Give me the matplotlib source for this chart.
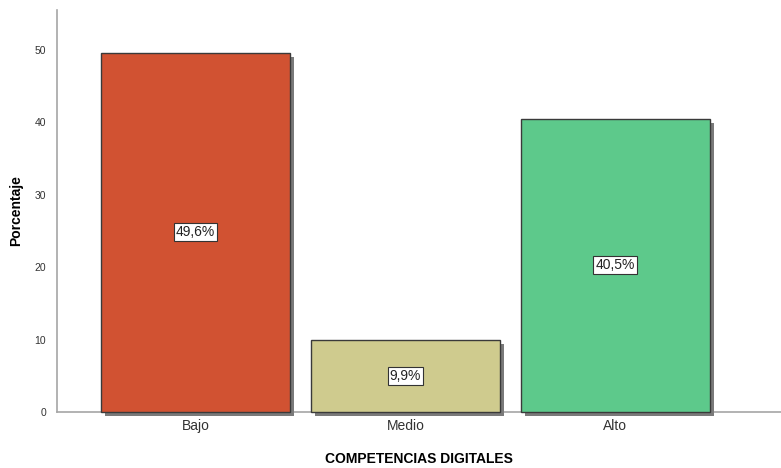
import matplotlib
matplotlib.use('Agg')
import matplotlib.pyplot as plt
import matplotlib.patheffects as pe

plt.rcParams['font.family'] = ['Liberation Sans', 'DejaVu Sans']

categories = ["Bajo", "Medio", "Alto"]
percentages = [49.6, 9.9, 40.5]
bar_colors = ["#D15232", "#CFCB8E", "#5DC98B"]

fig = plt.figure(figsize=(7.81, 4.68), dpi=100)
ax = fig.add_axes([0.073, 0.1197, 0.927, 0.859])

xs = range(len(categories))
bars = ax.bar(xs, percentages, width=0.9, color=bar_colors,
              edgecolor="#3a3a3a", linewidth=1.0, zorder=3)
# grey drop shadow under each bar
for b in bars:
    b.set_clip_on(False)
    b.set_path_effects([
        pe.SimplePatchShadow(offset=(3, -3), shadow_rgbFace="#7a7a7a", alpha=1.0),
        pe.Normal(),
    ])

for x, v in zip(xs, percentages):
    label = ("%.1f%%" % v).replace(".", ",")
    ax.text(x, v / 2, label, ha="center", va="center", fontsize=10,
            color="#222222", zorder=5,
            bbox=dict(boxstyle="square,pad=0.15", facecolor="white",
                      edgecolor="#333333", linewidth=0.8))

ax.set_xlim(-0.66, 2.79)
ax.set_ylim(0, 55.5)
ax.set_yticks([0, 10, 20, 30, 40, 50])
ax.set_xticks(list(xs))
ax.set_xticklabels(categories)

for s in ["top", "right"]:
    ax.spines[s].set_visible(False)
for s in ["left", "bottom"]:
    ax.spines[s].set_color("#a6a6a6")
    ax.spines[s].set_linewidth(1.2)
ax.tick_params(axis="y", length=0, labelsize=7.5, labelcolor="#333333", pad=8)
ax.tick_params(axis="x", length=0, labelsize=10, labelcolor="#333333", pad=5)

ax.set_xlabel("COMPETENCIAS DIGITALES", fontsize=10, fontweight="bold",
              labelpad=14)
ax.set_ylabel("Porcentaje", fontsize=10, fontweight="bold", labelpad=8)

fig.savefig("out.png", dpi=100)
